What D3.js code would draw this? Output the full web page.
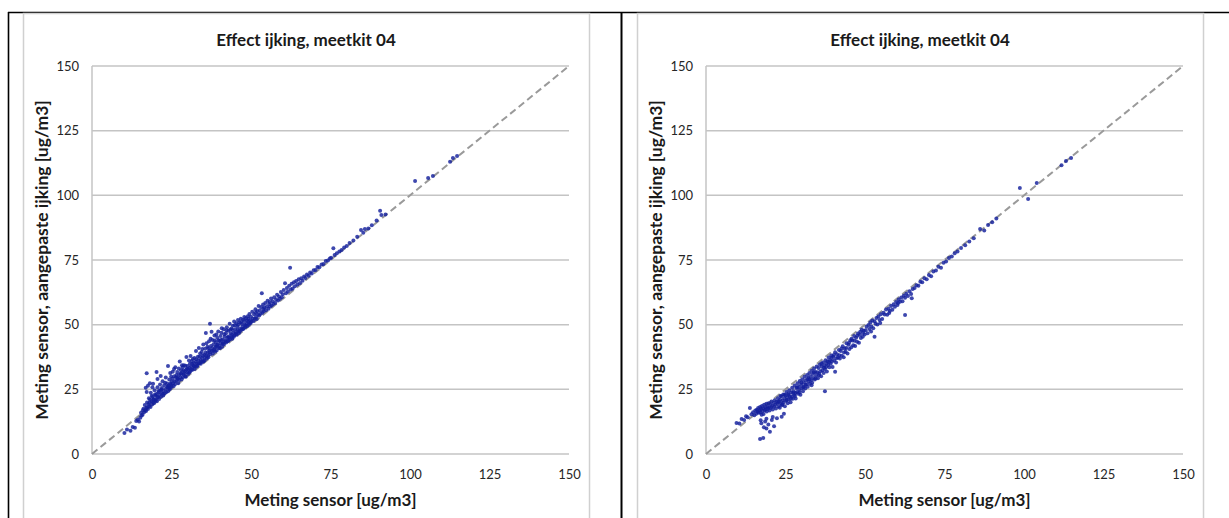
<!DOCTYPE html>
<html>
<head>
<meta charset="utf-8">
<script src="https://cdn.jsdelivr.net/npm/d3@7"></script>
<style>
  html, body { margin: 0; padding: 0; background: #ffffff; }
  svg { display: block; }
  text { font-family: Lato, "Open Sans", "Liberation Sans", sans-serif; }
</style>
</head>
<body>
<svg id="fig" width="1229" height="518"></svg>
<script>
// Chart texts and axis ticks
const chartTitle = "Effect ijking, meetkit 04";
const xAxisTitle = "Meting sensor [ug/m3]";
const yAxisTitle = "Meting sensor, aangepaste ijking [ug/m3]";
const axisTicks = [0, 25, 50, 75, 100, 125, 150];
const axisDomain = [0, 150];

// Sensor reading vs. reading after adjusted calibration, [sensor, adjusted] in ug/m3
const pointsLeft = [
  [10.2,8.1],[11.0,9.5],[12.1,9.0],[12.8,10.4],[13.5,10.1],[13.9,12.8],[14.4,13.2],[14.8,12.6],[15.2,14.0],[15.6,14.9],
  [15.4,15.9],[15.9,15.2],[16.2,17.5],[16.4,16.1],[16.6,18.9],[16.8,17.0],[17.0,16.6],[17.3,19.9],[17.3,18.1],[17.6,17.4],
  [17.9,21.6],[18.0,18.6],[18.1,19.9],[18.4,18.2],[18.5,23.7],[18.7,20.4],[18.9,19.1],[19.0,22.0],[19.2,20.0],[19.4,21.3],
  [19.5,19.6],[19.7,24.6],[19.9,20.7],[20.0,22.6],[20.1,21.0],[20.3,23.2],[20.4,20.4],[20.6,25.8],[20.8,21.9],[20.9,23.9],
  [21.1,21.3],[21.2,22.8],[21.4,26.9],[21.5,24.6],[21.7,22.1],[21.9,23.5],[22.0,25.5],[22.2,28.1],[22.4,22.6],[22.5,24.4],
  [22.7,26.6],[22.9,23.5],[23.1,25.1],[23.2,29.6],[23.4,24.0],[23.6,27.3],[23.7,25.8],[23.9,24.3],[24.1,26.4],[24.3,28.8],
  [24.4,25.0],[24.6,31.3],[24.8,26.9],
  [16.0,16.9],[17.1,17.9],[17.8,19.2],[18.2,21.1],[18.8,22.5],[19.3,21.0],[19.8,23.0],[20.5,22.0],[21.0,24.4],[21.8,24.9],
  [22.3,23.3],[23.0,27.5],[23.8,26.1],[24.2,25.4],
  [17.2,31.2],[20.3,31.7],[23.9,34.0],[18.2,27.4],[17.2,24.0],[16.9,25.6],[19.2,27.2],[17.6,26.4],[20.6,29.0],[21.6,30.2],
  [19.0,25.8],
  [24.6,27.3],[24.9,30.0],[25.0,26.2],[25.3,29.1],[25.4,31.8],[25.7,26.3],[25.9,30.1],[26.0,28.1],[26.2,33.5],[26.4,29.7],
  [26.5,28.2],[26.8,31.7],[26.9,29.4],[27.1,27.4],[27.3,33.1],[27.4,30.5],[27.6,35.8],[27.8,29.7],[28.0,32.4],[28.1,31.0],
  [28.3,34.3],[28.6,29.7],[28.7,32.3],[28.9,34.3],[29.0,31.2],[29.3,30.1],[29.4,34.1],[29.6,32.6],[29.7,37.5],[30.0,31.5],
  [30.1,34.0],[30.3,32.7],[30.5,36.1],[30.6,31.5],[30.8,34.9],[31.0,37.9],[31.2,33.8],[31.3,32.7],[31.5,34.9],[31.7,36.7],
  [31.9,34.1],[32.1,33.9],[32.2,37.1],[32.4,33.7],[32.6,35.7],[32.7,39.8],[32.9,34.9],[33.1,34.2],[33.3,37.6],[33.4,36.2],
  [33.6,41.0],[33.8,35.1],[34.0,38.9],[34.1,36.3],[34.3,35.6],[34.5,39.4],[34.6,37.1],[34.8,38.0],[35.0,42.3],[35.1,36.0],
  [24.8,25.6],[25.1,28.0],[25.5,27.4],[25.8,32.9],[26.1,27.0],[26.6,30.5],[27.0,29.0],[27.5,28.6],[27.9,31.2],[28.2,28.9],
  [28.5,33.5],[28.8,30.7],[29.2,32.0],[29.5,29.9],[29.9,33.0],[30.2,30.9],[30.7,33.2],[30.9,32.0],[31.4,36.0],[31.6,32.6],
  [32.0,35.2],[32.3,32.9],[32.8,36.6],[33.0,33.8],[33.5,35.0],[33.9,37.7],[34.2,34.9],[34.7,40.6],[34.9,35.7],
  [35.3,38.4],[35.5,37.2],[35.6,40.7],[35.8,46.8],[35.9,38.0],[36.1,36.9],[36.3,41.5],[36.4,39.2],[36.6,37.4],[36.8,43.6],
  [36.9,40.1],[37.1,50.4],[37.2,38.6],[37.4,41.8],[37.6,47.3],[37.7,39.9],[37.9,44.1],[38.0,38.9],[38.2,42.4],[38.4,40.3],
  [38.5,45.8],[38.7,39.6],[38.9,43.2],[39.0,41.5],[39.2,40.0],[39.4,44.9],[39.5,42.3],[39.7,47.4],[39.9,41.0],[40.0,43.7],
  [40.2,40.9],[40.4,45.6],[40.5,42.8],[40.7,46.9],[40.9,41.5],[41.0,44.3],[41.2,43.0],[41.4,48.2],[41.5,42.4],[41.7,45.3],
  [41.9,44.0],[42.1,46.7],[42.2,43.1],[42.4,49.0],[42.6,44.9],[42.7,43.6],[42.9,47.6],[43.1,45.1],[43.3,50.4],[43.4,44.4],
  [43.6,46.6],[43.8,48.5],[44.0,45.2],[44.1,44.6],[44.3,49.6],[44.5,46.8],[44.7,51.2],[44.8,45.9],[45.0,48.2],[45.2,47.1],
  [45.4,50.5],[45.5,46.1],[45.7,49.3],[45.9,51.8],[46.1,47.5],[46.2,46.8],[46.4,50.9],[46.6,48.4],[46.8,52.3],[47.0,48.0],
  [47.1,50.3],[47.3,49.1],[47.5,51.9],[47.7,48.5],[47.9,53.0],[48.0,50.1],[48.2,49.0],[48.4,52.5],[48.6,50.4],[48.8,49.5],
  [49.0,53.3],[49.1,51.2],[49.3,50.0],[49.5,54.1],[49.7,51.7],[49.9,50.6],
  [35.4,36.1],[35.7,39.1],[36.0,42.8],[36.5,38.0],[36.7,40.9],[37.0,39.3],[37.3,44.6],[37.8,41.0],[38.1,40.0],[38.6,43.9],
  [38.8,41.3],[39.1,46.2],[39.3,42.1],[39.8,44.0],[40.1,41.8],[40.6,44.1],[40.8,48.6],[41.1,42.6],[41.6,46.3],[42.0,43.5],
  [42.3,47.8],[42.8,45.4],[43.0,44.0],[43.5,48.0],[43.9,46.0],[44.2,47.9],[44.6,45.3],[44.9,49.8],[45.3,46.5],[45.8,48.0],
  [46.0,50.0],[46.5,47.4],[46.9,50.9],[47.4,48.2],[47.8,51.4],[48.3,49.6],[48.7,51.6],[49.2,52.4],[49.6,50.5],
  [50.0,53.1],[50.2,51.3],[50.4,55.0],[50.6,52.4],[50.8,51.4],[51.0,54.0],[51.2,52.3],[51.4,56.0],[51.6,53.0],[51.8,52.2],
  [52.0,55.2],[52.2,53.8],[52.4,57.2],[52.6,53.5],[52.8,55.6],[53.0,54.2],[53.2,56.8],[53.4,62.1],[53.6,54.6],[53.8,57.8],
  [54.0,55.2],[54.2,56.6],[54.5,58.4],[54.7,55.6],[55.0,57.0],[55.2,59.2],[55.5,56.2],[55.7,58.0],[56.0,57.0],[56.3,60.1],
  [56.5,57.4],[56.8,59.1],[57.0,58.0],[57.3,60.6],[57.6,58.4],[57.9,59.7],[58.2,61.6],[58.5,59.3],[58.8,60.9],[59.1,60.0],
  [59.4,62.6],[59.7,60.6],[51.5,54.6],[53.9,56.1],[55.9,58.8],
  [60.0,61.8],[60.3,63.4],[60.7,66.0],[61.0,62.1],[61.3,64.2],[61.6,62.8],[62.0,65.0],[62.3,72.0],[62.5,63.6],[62.8,65.8],
  [63.1,64.0],[63.5,66.4],[63.8,64.9],[64.2,66.9],[64.6,65.5],[65.0,67.6],[65.4,66.1],[65.8,67.9],[66.2,67.0],[66.7,68.6],
  [67.1,68.0],[67.6,69.4],[68.1,68.9],[68.6,70.2],[69.1,69.8],[69.7,71.0],[70.3,71.1],[70.9,72.3],[71.5,72.2],[72.2,73.3],
  [72.8,73.5],[73.5,74.6],[74.2,74.8],[74.8,75.6],
  [75.2,75.9],[75.9,79.5],[76.3,76.9],[77.0,77.6],[77.8,78.3],[78.5,78.9],[79.3,79.8],[80.1,80.4],[81.0,81.6],[82.2,82.5],
  [83.4,84.0],[84.6,86.6],[85.3,85.5],[85.8,87.0],[86.9,87.2],[88.0,88.4],[89.5,90.3],[90.6,94.0],[91.0,92.4],[92.3,92.6],
  [101.6,105.5],[105.7,106.7],[107.2,107.5],[112.6,113.0],[113.5,114.4],[114.8,115.2]
];

const pointsRight = [
  [9.6,12.0],[10.5,11.8],[11.2,13.5],[12.0,13.1],[12.6,14.6],[13.1,14.2],[13.8,17.8],[14.3,15.4],[14.8,16.1],[15.2,15.0],
  [15.5,16.8],
  [15.8,15.6],[16.0,17.1],[16.2,16.3],[16.4,17.8],[16.6,15.9],[16.8,16.9],[17.0,18.2],[17.1,16.0],[17.3,17.4],[17.5,15.2],
  [17.6,18.6],[17.8,16.6],[18.0,17.7],[18.1,15.5],[18.3,19.0],[18.5,16.9],[18.6,18.1],[18.8,17.3],[19.0,19.4],[19.1,16.4],
  [19.3,18.3],[19.5,17.5],[19.7,19.6],[19.8,18.0],[20.0,16.8],[20.2,19.1],[20.4,17.9],[20.6,20.3],[20.8,18.6],[21.0,17.2],
  [21.2,19.7],[21.4,18.4],[21.6,20.8],[21.8,19.0],[22.0,17.6],[22.2,20.2],
  [17.0,5.8],[18.0,6.2],[19.0,9.9],[17.4,11.9],[18.2,10.3],[18.6,12.6],[19.6,11.4],[20.1,8.6],[20.7,13.1],[21.4,10.7],
  [22.3,13.8],[17.2,13.0],[19.0,13.6],[21.0,14.3],[23.8,14.4],[24.5,15.6],
  [22.4,19.5],[22.6,21.6],[22.8,18.4],[23.0,20.3],[23.2,17.9],[23.3,21.0],[23.5,19.4],[23.7,22.3],[23.9,18.8],[24.1,20.7],
  [24.3,23.0],[24.4,19.9],[24.6,21.5],[24.8,18.5],[25.0,22.6],[25.2,20.6],[25.3,24.0],[25.5,21.9],[25.7,19.6],[25.9,23.3],
  [26.1,21.1],[26.2,24.6],[26.4,22.2],[26.6,20.0],[26.8,23.8],[27.0,22.1],[27.1,25.6],[27.3,21.4],[27.5,24.3],[27.7,22.8],
  [27.9,26.5],[28.1,23.6],[28.2,21.5],[28.4,25.5],[28.6,24.0],[28.8,27.4],[29.0,23.3],[29.2,26.0],[29.3,24.7],[29.5,28.2],
  [29.7,22.9],[29.9,26.8],[30.1,25.4],[30.3,28.9],[30.5,24.3],[30.7,27.6],[30.8,26.1],[31.0,29.9],[31.2,25.3],[31.4,28.4],
  [31.6,27.0],[31.8,30.5],[32.0,26.0],[32.2,29.4],[32.3,28.0],[32.5,31.3],[32.7,27.2],[32.9,30.0],[33.1,28.6],[33.3,32.2],
  [33.4,27.5],[33.6,30.9],[33.8,29.4],[34.0,33.1],[34.2,28.8],[34.4,31.7],[34.6,30.3],[34.8,33.8],
  [22.7,20.1],[23.4,22.4],[24.0,19.2],[24.7,22.9],[25.4,20.9],[26.0,22.8],[26.7,21.4],[27.4,23.6],[28.0,22.4],[28.7,25.8],
  [29.4,23.9],[30.0,27.5],[30.6,25.8],[31.3,26.8],[31.9,29.0],[32.6,28.8],[33.2,26.6],[33.9,31.6],[34.5,29.2],
  [35.0,31.6],[35.2,29.3],[35.4,33.2],[35.6,31.0],[35.8,34.6],[36.0,32.0],[36.2,30.1],[36.4,33.8],[36.6,32.4],[36.8,35.4],
  [37.0,31.3],[37.4,24.3],[37.2,34.2],[37.4,32.9],[37.6,36.2],[37.8,33.6],[38.0,31.9],[38.2,35.9],[38.4,34.4],[38.6,37.3],
  [38.8,33.5],[39.0,36.2],[39.2,34.9],[39.4,38.1],[39.6,35.8],[39.8,33.6],[40.0,37.6],[40.3,36.1],[40.6,31.8],[40.6,39.3],
  [40.9,35.4],[41.2,38.6],[41.5,37.3],[41.8,40.2],[42.1,36.9],[42.4,39.8],[42.7,38.0],[43.0,41.7],[43.3,37.4],[43.6,40.8],
  [43.9,39.5],[44.2,42.8],[44.5,38.9],[44.8,42.2],[45.1,40.6],[45.4,44.0],[45.7,41.3],[46.0,43.9],[46.3,42.0],[46.6,45.6],
  [46.9,41.8],[47.2,44.9],[47.5,43.4],[47.8,46.6],[48.1,43.0],[48.4,46.1],[48.7,44.8],[49.0,48.0],[49.3,45.3],[49.6,47.6],
  [49.9,46.2],
  [35.5,30.4],[36.3,35.0],[37.1,33.3],[37.9,35.0],[38.7,35.6],[39.5,37.1],[40.2,38.3],[41.0,37.0],[41.9,38.2],[42.6,40.8],
  [43.4,39.2],[44.1,41.0],[45.0,43.0],[45.8,44.6],[46.7,43.8],[47.6,45.7],[48.5,47.3],[49.4,46.8],
  [50.2,47.8],[50.5,49.2],[50.8,46.7],[51.1,49.9],[51.4,48.3],[51.7,50.8],[52.0,49.3],[52.3,51.6],[52.6,48.6],[53.0,45.3],
  [53.0,51.3],[53.3,50.4],[53.6,52.6],[53.9,50.1],[54.2,53.2],[54.6,51.8],[55.0,54.0],[55.4,52.2],[55.8,54.6],[56.2,53.9],
  [56.6,55.9],[57.0,53.8],[57.4,56.2],[57.8,55.3],[58.2,57.2],[58.6,55.8],[59.0,57.9],[59.4,56.9],[59.8,58.8],[60.2,57.6],
  [60.6,59.7],[61.0,58.9],[61.4,60.5],[61.8,59.1],[62.2,61.2],[62.6,53.7],[62.6,60.4],[63.0,62.0],[63.5,61.1],[64.0,62.9],
  [64.5,61.9],[64.7,60.2],[65.0,63.8],[51.9,47.4],[54.8,50.6],[57.6,54.5],[60.4,58.4],
  [65.6,64.2],[66.2,65.2],[66.8,65.0],[67.4,66.6],[68.0,66.4],[68.7,67.9],[69.4,67.6],[70.1,69.2],[70.8,68.7],[71.5,70.6],
  [72.3,70.9],[73.1,72.4],[73.9,72.0],[74.7,73.9],[75.5,74.4],[76.4,75.8],[77.3,76.4],[78.2,77.6],[79.1,78.3],[80.2,79.6],
  [81.5,80.7],[82.8,82.2],[84.2,83.4],[86.2,87.0],[87.5,86.4],[88.7,88.5],[90.0,89.6],[91.3,91.0],[98.7,102.8],[101.3,98.6],
  [104.0,104.8],[111.8,111.6],[113.2,113.3],[114.8,114.4]
];

const svg = d3.select("#fig");

// Page frame: black rules along the top, left and between the two panels
svg.append("line").attr("x1", 8).attr("x2", 1229).attr("y1", 12.5).attr("y2", 12.5)
  .attr("stroke", "#000").attr("stroke-width", 1.6);
svg.append("line").attr("x1", 8.5).attr("x2", 8.5).attr("y1", 12).attr("y2", 518)
  .attr("stroke", "#000").attr("stroke-width", 1.6);
svg.append("line").attr("x1", 621.5).attr("x2", 621.5).attr("y1", 12).attr("y2", 518)
  .attr("stroke", "#000").attr("stroke-width", 2);

function drawPanel(boxLeft, points) {
  const box = { left: boxLeft, top: 13.5, width: 566, height: 520 };
  const plot = { left: boxLeft + 69, top: 66, right: boxLeft + 546, bottom: 454 };

  const g = svg.append("g");

  // chart box
  g.append("rect")
    .attr("x", box.left + 0.5).attr("y", box.top)
    .attr("width", box.width).attr("height", box.height)
    .attr("fill", "#fff").attr("stroke", "#d0d0d0").attr("stroke-width", 1.5);

  const x = d3.scaleLinear().domain(axisDomain).range([plot.left, plot.right]);
  const y = d3.scaleLinear().domain(axisDomain).range([plot.bottom, plot.top]);

  // horizontal gridlines
  g.append("g").selectAll("line").data(axisTicks).join("line")
    .attr("x1", plot.left).attr("x2", plot.right)
    .attr("y1", d => y(d)).attr("y2", d => y(d))
    .attr("stroke", "#c4c4c4").attr("stroke-width", 1.5);

  // vertical axis line
  g.append("line").attr("x1", plot.left).attr("x2", plot.left)
    .attr("y1", plot.top).attr("y2", plot.bottom)
    .attr("stroke", "#c4c4c4").attr("stroke-width", 1.5);

  // tick labels through d3 axes
  const yAxis = g.append("g").attr("transform", `translate(${plot.left},0)`)
    .call(d3.axisLeft(y).tickValues(axisTicks).tickSize(0).tickPadding(13));
  const xAxis = g.append("g").attr("transform", `translate(0,${plot.bottom})`)
    .call(d3.axisBottom(x).tickValues(axisTicks).tickSize(0).tickPadding(16));
  [xAxis, yAxis].forEach(a => {
    a.select(".domain").remove();
    a.selectAll("text")
      .attr("fill", "#262626")
      .style("font-family", "Lato, 'Open Sans', sans-serif")
      .style("font-size", "13px");
  });

  // 1:1 reference line
  g.append("line")
    .attr("x1", x(0)).attr("y1", y(0)).attr("x2", x(150)).attr("y2", y(150))
    .attr("stroke", "#9a9a9a").attr("stroke-width", 2).attr("stroke-dasharray", "7,4");

  // measurements
  g.append("g").selectAll("circle").data(points).join("circle")
    .attr("cx", d => x(d[0])).attr("cy", d => y(d[1]))
    .attr("r", 2)
    .attr("fill", "#14209c").attr("fill-opacity", 0.82);

  // titles
  g.append("text")
    .attr("x", box.left + box.width / 2).attr("y", 46)
    .attr("text-anchor", "middle")
    .style("font-size", "17px").style("font-weight", "bold").attr("fill", "#1a1a1a")
    .text(chartTitle);

  g.append("text")
    .attr("x", (plot.left + plot.right) / 2).attr("y", 506)
    .attr("text-anchor", "middle")
    .style("font-size", "17px").style("font-weight", "bold").attr("fill", "#1a1a1a")
    .text(xAxisTitle);

  g.append("text")
    .attr("transform", `translate(${boxLeft + 25},${(plot.top + plot.bottom) / 2}) rotate(-90)`)
    .attr("text-anchor", "middle")
    .style("font-size", "17.5px").style("font-weight", "bold").attr("fill", "#1a1a1a")
    .text(yAxisTitle);
}

drawPanel(23, pointsLeft);
drawPanel(637, pointsRight);
</script>
</body>
</html>
